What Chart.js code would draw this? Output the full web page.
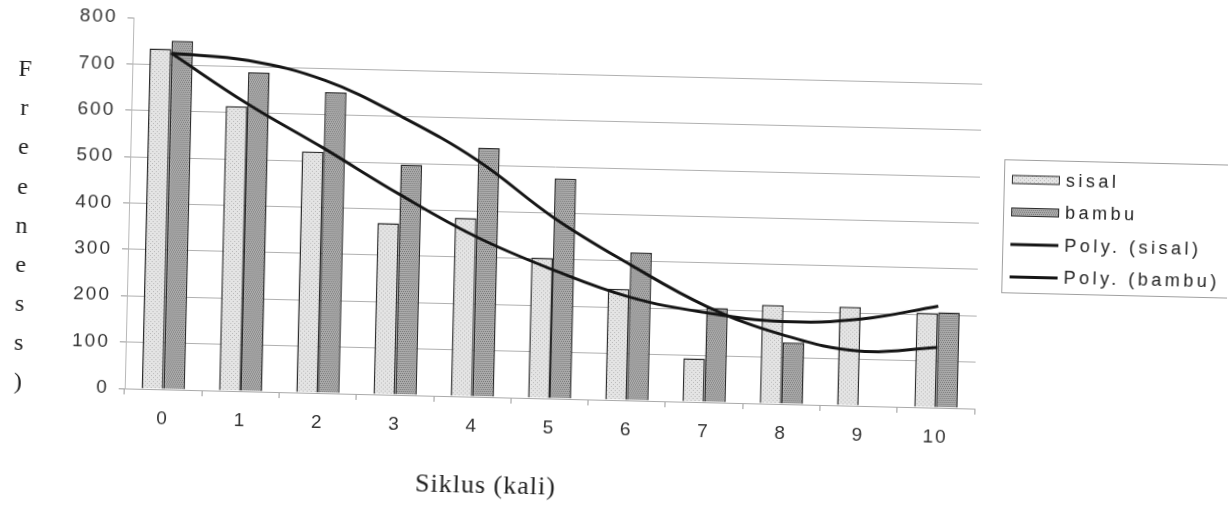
<!DOCTYPE html>
<html>
<head>
<meta charset="utf-8">
<script src="https://cdn.jsdelivr.net/npm/chart.js@4/dist/chart.umd.min.js"></script>
<style>
  html, body { margin: 0; padding: 0; background: #fff; overflow: hidden; }
  /* the scanned original is tilted slightly clockwise */
  #wrap { width: 1228px; height: 511px; transform: rotate(1.36deg); transform-origin: 614px 255.5px; }
  canvas { display: block; }
</style>
</head>
<body>
<div id="wrap"><canvas id="c" width="1228" height="511"></canvas></div>
<script>
// ── data ──
const categories = ['0', '1', '2', '3', '4', '5', '6', '7', '8', '9', '10'];
const sisal      = [734, 614, 520, 370, 385, 303, 240, 94, 213, 213, 204];
const bambu      = [752, 688, 649, 497, 537, 475, 319, 204, 133, 0, 206];
const polySisal  = [725, 620, 528, 432, 345, 278, 223, 193, 178, 187, 219];
const polyBambu  = [725, 713, 674, 600, 509, 390, 293, 207, 149, 118, 130];
const yMin = 0, yMax = 800, yStep = 100;
const seriesNames = ['sisal', 'bambu', 'Poly. (sisal)', 'Poly. (bambu)'];
const xTitle = 'Siklus (kali)';
const yTitle = 'Freeness)';

const canvas = document.getElementById('c');
const ctx0 = canvas.getContext('2d');

// small dotted tiles to imitate the printed bar textures
function makePattern(base, dot, cells) {
  const t = document.createElement('canvas');
  t.width = 4; t.height = 4;
  const g = t.getContext('2d');
  g.fillStyle = base; g.fillRect(0, 0, 4, 4);
  g.fillStyle = dot;
  cells.forEach(([x, y]) => g.fillRect(x, y, 1, 1));
  return ctx0.createPattern(t, 'repeat');
}
const sisalFill = makePattern('#e4e4e4', '#b8b8b8', [[0, 0], [2, 2]]);
const bambuFill = makePattern('#ababab', '#777777', [[0, 0], [2, 0], [1, 2], [3, 2]]);

const decorations = {
  id: 'decorations',
  beforeDraw(chart) {
    chart.ctx.letterSpacing = '2px';
  },
  afterDraw(chart) {
    const ctx = chart.ctx;
    const area = chart.chartArea;
    ctx.save();
    ctx.fillStyle = '#1e1e1e';
    ctx.textBaseline = 'middle';

    // stacked y title, one letter per line
    ctx.letterSpacing = '0px';
    ctx.textAlign = 'center';
    ctx.font = '24px "Liberation Serif", serif';
    [...yTitle].forEach((ch, i) => ctx.fillText(ch, area.left - 107, area.top + 55 + i * 39.1));

    // x title
    ctx.letterSpacing = '1px';
    ctx.font = '26px "Liberation Serif", serif';
    ctx.fillText(xTitle, area.left + 363, area.bottom + 89);

    // legend box
    const lx = area.right + 32, ly = area.top + 141, step = 32.5;
    ctx.strokeStyle = '#a0a0a0';
    ctx.lineWidth = 1;
    ctx.strokeRect(area.right + 24.5, area.top + 121.5, 226, 133);
    ctx.letterSpacing = '3.5px';
    ctx.font = '18px "Liberation Sans", Arial, sans-serif';
    ctx.textAlign = 'left';
    chart.data.datasets.forEach((ds, i) => {
      const y = ly + i * step;
      if (ds.type === 'bar') {
        ctx.fillStyle = ds.backgroundColor;
        ctx.fillRect(lx, y - 4.5, 48, 9);
        ctx.strokeStyle = ds.borderColor;
        ctx.lineWidth = 1;
        ctx.strokeRect(lx + 0.5, y - 4, 47, 8);
      } else {
        ctx.strokeStyle = ds.borderColor;
        ctx.lineWidth = 3;
        ctx.beginPath();
        ctx.moveTo(lx, y);
        ctx.lineTo(lx + 48, y);
        ctx.stroke();
      }
      ctx.fillStyle = '#222';
      ctx.fillText(ds.label, lx + 54, y + 1);
    });
    ctx.restore();
  }
};

new Chart(canvas, {
  type: 'bar',
  data: {
    labels: categories,
    datasets: [
      { type: 'bar', label: seriesNames[0], data: sisal, backgroundColor: sisalFill,
        borderColor: '#2a2a2a', borderWidth: 1.5, order: 2 },
      { type: 'bar', label: seriesNames[1], data: bambu, backgroundColor: bambuFill,
        borderColor: '#2a2a2a', borderWidth: 1.5, order: 2 },
      { type: 'line', label: seriesNames[2], data: polySisal, borderColor: '#151515',
        borderWidth: 3, pointRadius: 0, tension: 0.4, fill: false, order: 1 },
      { type: 'line', label: seriesNames[3], data: polyBambu, borderColor: '#151515',
        borderWidth: 3, pointRadius: 0, tension: 0.4, fill: false, order: 1 }
    ]
  },
  options: {
    responsive: false,
    animation: false,
    layout: { padding: { left: 58, right: 250, top: 29, bottom: 61 } },
    datasets: { bar: { categoryPercentage: 0.56, barPercentage: 1.0 } },
    plugins: { legend: { display: false }, tooltip: { enabled: false } },
    scales: {
      x: {
        afterFit: (s) => { s.height = 50; },
        grid: { drawOnChartArea: false, tickLength: 6, tickColor: '#999' },
        border: { color: '#aaa', width: 1 },
        ticks: { color: '#333', padding: 12, font: { family: '"Liberation Sans", Arial, sans-serif', size: 19 } }
      },
      y: {
        min: yMin, max: yMax,
        afterFit: (s) => { s.width = 70; },
        grid: {
          color: (c) => (c.tick && c.tick.value === yMax) ? 'rgba(0,0,0,0)' : '#b0b0b0',
          tickLength: 6, tickColor: '#999'
        },
        border: { color: '#b8b8b8', width: 1 },
        ticks: { stepSize: yStep, color: '#333', padding: 10,
          font: { family: '"Liberation Sans", Arial, sans-serif', size: 19 } }
      }
    }
  },
  plugins: [decorations]
});
</script>
</body>
</html>
